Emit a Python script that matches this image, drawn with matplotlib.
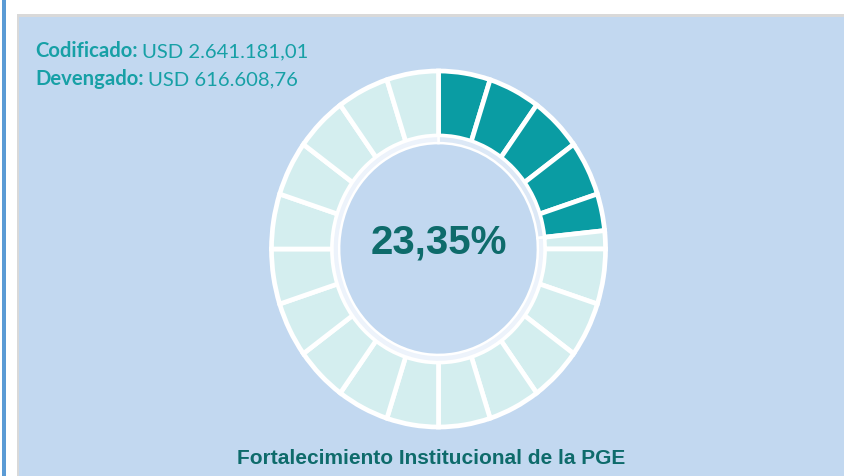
import matplotlib.pyplot as plt
from matplotlib.patches import Rectangle

# data
pct_value = 23.35
n_segments = 20
label_cod = "Codificado:"
value_cod = "USD 2.641.181,01"
label_dev = "Devengado:"
value_dev = "USD 616.608,76"
title = "Fortalecimiento Institucional de la PGE"

teal = "#0a9ca3"
light = "#d4eeef"
panel = "#c2d8f0"
dark = "#0e6b6b"

# split the gauge into equal steps, cutting the step where the value ends
step = 100 / n_segments
sizes, colors = [], []
for i in range(n_segments):
    a, b = i * step, (i + 1) * step
    if a < pct_value < b:
        sizes += [pct_value - a, b - pct_value]
        colors += [teal, light]
    else:
        sizes.append(step)
        colors.append(teal if b <= pct_value else light)

W, H = 845, 477
fig = plt.figure(figsize=(W / 100, H / 100), dpi=100)
fig.patch.set_facecolor("white")

# background decorations
bg = fig.add_axes([0, 0, 1, 1])
bg.set_xlim(0, W)
bg.set_ylim(H, 0)
bg.axis("off")
bg.add_patch(Rectangle((2, 0), 4.5, H, color="#5b9bd5", lw=0))
bg.add_patch(Rectangle((17, 15), W - 17, H - 15, color="#d9d9d9", lw=0))
bg.add_patch(Rectangle((19, 17.5), W - 19, H - 17.5, color=panel, lw=0))

# donut (slightly stretched vertically like the original)
cx, cy, rx, ry = 438.5, 250, 167, 178
lim = 1.1
ax = fig.add_axes([(cx - lim * rx) / W, (H - cy - lim * ry) / H,
                   2 * lim * rx / W, 2 * lim * ry / H])
ax.pie(sizes, colors=colors, startangle=90, counterclock=False,
       radius=1.0, wedgeprops=dict(width=0.365, edgecolor="white", linewidth=3.4))
ax.pie([pct_value, 100 - pct_value], colors=["#dce8f6", "#edf3fb"], startangle=90,
       counterclock=False, radius=0.635,
       wedgeprops=dict(width=0.04, edgecolor="white", linewidth=1.8))
ax.set_aspect("auto")
ax.set_xlim(-lim, lim)
ax.set_ylim(-lim, lim)
ax.axis("off")

ax.text(0, 0.04, f"{pct_value:.2f}%".replace(".", ","), ha="center", va="center",
        fontsize=29, fontweight="bold", color=dark, family="Liberation Sans")

# header lines with bold label + regular value
fig.canvas.draw()
renderer = fig.canvas.get_renderer()
for (lab, val, ypx) in [(label_cod, value_cod, 57), (label_dev, value_dev, 85)]:
    t = bg.text(35, ypx, lab, fontsize=14.6, fontweight="bold", color="#17a0a6",
                family="Lato", va="baseline")
    ext = t.get_window_extent(renderer)
    bg.text(35 + ext.width + 4, ypx, val, fontsize=14.6, color="#17a0a6",
            family="Lato", va="baseline")

bg.text(431, 464, title, ha="center", va="baseline", fontsize=15,
        fontweight="bold", color=dark, family="Liberation Sans")

fig.savefig("out.png", dpi=100, facecolor="white")
